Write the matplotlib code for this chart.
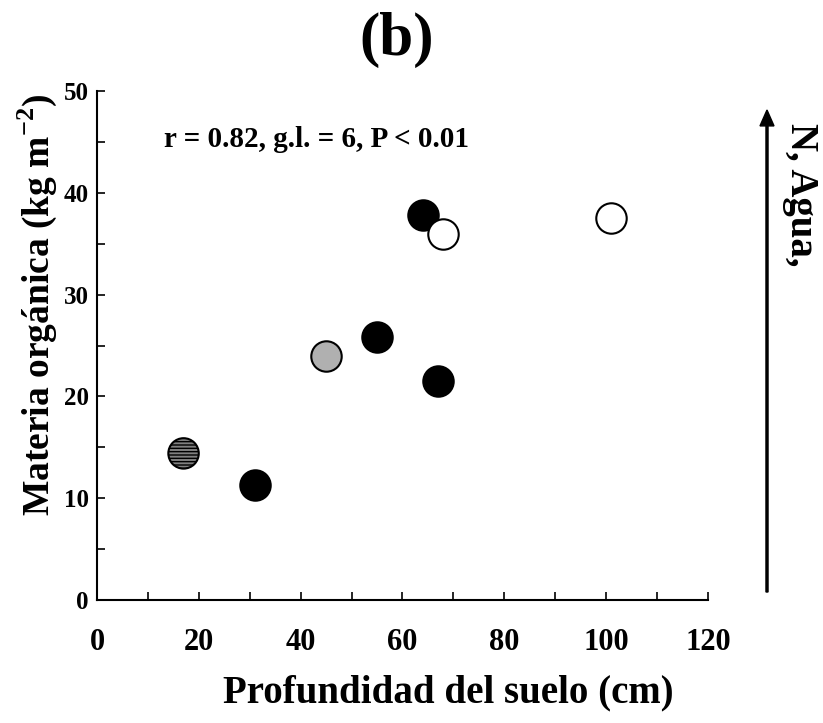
import numpy as np
import matplotlib
matplotlib.use('Agg')
import matplotlib.pyplot as plt
from matplotlib.ticker import MultipleLocator

plt.rcParams['font.family'] = 'Liberation Serif'
plt.rcParams['font.weight'] = 'bold'
plt.rcParams['mathtext.fontset'] = 'custom'
plt.rcParams['mathtext.rm'] = 'Liberation Serif:bold'
plt.rcParams['mathtext.bf'] = 'Liberation Serif:bold'
plt.rcParams['hatch.linewidth'] = 1.0

# Data
depth = [17, 31, 45, 55, 64, 67, 68, 101]
organic = [14.4, 11.3, 24.0, 25.8, 37.8, 21.5, 36.0, 37.5]
fills = ['#808080', 'black', '#b0b0b0', 'black', 'black', 'black', 'white', 'white']
hatches = ['-----', None, None, None, None, None, None, None]

fig = plt.figure(figsize=(8.23, 7.23), dpi=100)
ax = fig.add_axes([97 / 823, 1 - 600 / 723, (708 - 97) / 823, (600 - 91) / 723])

for x, y, c, h in zip(depth, organic, fills, hatches):
    ax.scatter(x, y, s=480, facecolor=c, edgecolor='black', linewidth=1.5, hatch=h, zorder=3)

ax.set_xlim(0, 120)
ax.set_ylim(0, 50)
ax.xaxis.set_major_locator(MultipleLocator(20))
ax.xaxis.set_minor_locator(MultipleLocator(10))
ax.yaxis.set_major_locator(MultipleLocator(10))
ax.yaxis.set_minor_locator(MultipleLocator(5))
ax.tick_params(which='both', direction='in', width=1.2, length=6)
ax.tick_params(axis='x', labelsize=22, pad=20)
ax.tick_params(axis='y', labelsize=18, pad=6)
for s in ['top', 'right']:
    ax.spines[s].set_visible(False)
for s in ['left', 'bottom']:
    ax.spines[s].set_linewidth(1.5)

ax.set_xlabel('Profundidad del suelo (cm)', fontsize=28, fontweight='bold')
ax.xaxis.set_label_coords((448 - 97) / (708 - 97), (600 - 693) / (600 - 91))
ax.set_ylabel('Materia orgánica (kg m$^{-2}$)', fontsize=27, fontweight='bold')
ax.yaxis.set_label_coords((37 - 97) / (708 - 97), (600 - 305) / (600 - 91))
ax.xaxis.label.set_va('center')
ax.yaxis.label.set_va('center')
fig.text(397 / 823, 1 - 40 / 723, '(b)', fontsize=44, fontweight='bold', ha='center', va='center')
ax.text(0.11, 0.905, 'r = 0.82, g.l. = 6, P < 0.01', transform=ax.transAxes,
        fontsize=21, fontweight='bold', va='center')

# Side arrow with label
fig.patches.append(matplotlib.patches.FancyArrow(
    767 / 823, 1 - 592 / 723, 0, (592 - 110) / 723, width=0.0025, head_width=0.017,
    head_length=0.022, length_includes_head=True, color='black', transform=fig.transFigure))
fig.text(800 / 823, 1 - 123 / 723, 'N, Agua,', rotation=-90, fontsize=28, fontweight='bold',
         ha='center', va='top')

fig.savefig('out.png', dpi=100)
